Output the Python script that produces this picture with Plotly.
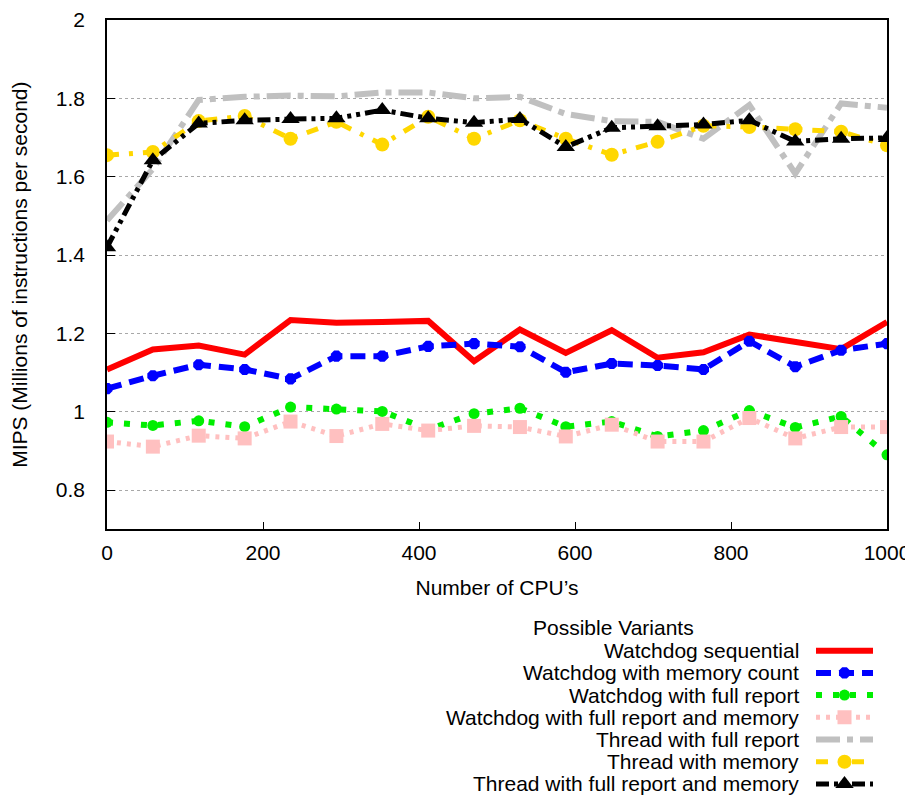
import plotly.graph_objects as go

# ---------------- data ----------------
cpus = [0, 58.8, 117.6, 176.5, 235.3, 294.1, 352.9, 411.8, 470.6, 529.4,
        588.2, 647.1, 705.9, 764.7, 823.5, 882.4, 941.2, 1000]

wd_sequential = [1.108, 1.159, 1.169, 1.146, 1.234, 1.227, 1.229, 1.232, 1.129, 1.210,
                 1.150, 1.208, 1.138, 1.152, 1.197, 1.180, 1.160, 1.229]
wd_mem_count = [1.059, 1.092, 1.120, 1.108, 1.084, 1.142, 1.142, 1.167, 1.174, 1.166,
                1.101, 1.123, 1.118, 1.108, 1.180, 1.115, 1.157, 1.174]
wd_full_report = [0.973, 0.965, 0.977, 0.962, 1.012, 1.007, 1.001, 0.955, 0.995, 1.009,
                  0.962, 0.975, 0.937, 0.952, 1.003, 0.960, 0.988, 0.890]
wd_full_report_mem = [0.924, 0.911, 0.939, 0.932, 0.975, 0.938, 0.969, 0.952, 0.964, 0.961,
                      0.937, 0.967, 0.924, 0.924, 0.984, 0.932, 0.961, 0.961]
th_full_report = [1.488, 1.620, 1.796, 1.804, 1.807, 1.805, 1.815, 1.815, 1.800, 1.804,
                  1.760, 1.742, 1.740, 1.697, 1.783, 1.608, 1.787, 1.776]
th_memory = [1.655, 1.663, 1.742, 1.755, 1.697, 1.740, 1.682, 1.753, 1.697, 1.744,
             1.697, 1.656, 1.689, 1.730, 1.727, 1.721, 1.715, 1.680]
th_full_report_mem = [1.420, 1.642, 1.736, 1.744, 1.747, 1.749, 1.770, 1.749, 1.738, 1.747,
                      1.676, 1.725, 1.729, 1.733, 1.744, 1.690, 1.697, 1.699]

names = ["Watchdog sequential", "Watchdog with memory count", "Watchdog with full report",
         "Watchdog with full report and memory", "Thread with full report",
         "Thread with memory", "Thread with full report and memory"]
series = [wd_sequential, wd_mem_count, wd_full_report, wd_full_report_mem,
          th_full_report, th_memory, th_full_report_mem]

x_ticks = [0, 200, 400, 600, 800, 1000]
y_ticks = [0.8, 1.0, 1.2, 1.4, 1.6, 1.8, 2.0]
y_tick_text = ["0.8", "1", "1.2", "1.4", "1.6", "1.8", "2"]
legend_title = "Possible Variants"

# ---------------- styles ----------------
styles = [
    dict(color="#ff0000", width=6, dash="solid", symbol=None, size=0),
    dict(color="#0000ff", width=6, dash="15px,8px", symbol="octagon", size=12),
    dict(color="#00ee00", width=6, dash="6px,11px", symbol="circle", size=11),
    dict(color="#ffc0c0", width=5, dash="4px,6px", symbol="square", size=14),
    dict(color="#c0c0c0", width=6, dash="24px,7px,6px,7px", symbol=None, size=0),
    dict(color="#ffd700", width=5, dash="12px,10px,4px,10px", symbol="circle", size=14),
    dict(color="#000000", width=5, dash="13px,5px,4px,5px,4px,5px", symbol="triangle-up", size=16),
]

FONT = "Liberation Sans, Arial, Helvetica, sans-serif"
FS = 21
OFF = 8  # page body margin
W, H = 913 - OFF, 796 - OFF
left_px, right_px, top_px, bottom_px = 107 - OFF, 887 - OFF, 20 - OFF, 529.3 - OFF
paper_h = H - top_px
y_dom_low = (H - bottom_px) / paper_h

fig = go.Figure()

for nm, ys, st in zip(names, series, styles):
    mode = "lines+markers" if st["symbol"] else "lines"
    fig.add_trace(go.Scatter(
        x=cpus, y=ys, name=nm, mode=mode,
        line=dict(color=st["color"], width=st["width"], dash=st["dash"]),
        marker=dict(symbol=st["symbol"] or "circle", size=st["size"], color=st["color"],
                    line=dict(width=0)),
        showlegend=False, xaxis="x", yaxis="y"))

# ---------------- custom legend (text left, sample right) ----------------
row0 = 650.7 - OFF
row_step = 22.2
sample_x0, sample_x1 = 816 - OFF, 873 - OFF
annotations = [dict(x=613 - OFF, y=627.5 - OFF, xref="x2", yref="y2", text=legend_title,
                    showarrow=False, xanchor="center", yanchor="middle",
                    font=dict(family=FONT, size=FS, color="black"))]
for i, (nm, st) in enumerate(zip(names, styles)):
    yy = row0 + i * row_step
    fig.add_trace(go.Scatter(
        x=[sample_x0, sample_x1], y=[yy, yy], mode="lines",
        line=dict(color=st["color"], width=st["width"], dash=st["dash"]),
        showlegend=False, hoverinfo="skip", xaxis="x2", yaxis="y2"))
    if st["symbol"]:
        fig.add_trace(go.Scatter(
            x=[(sample_x0 + sample_x1) / 2], y=[yy], mode="markers",
            marker=dict(symbol=st["symbol"], size=st["size"], color=st["color"],
                        line=dict(width=0)),
            showlegend=False, hoverinfo="skip", xaxis="x2", yaxis="y2"))
    annotations.append(dict(x=801 - OFF, y=yy, xref="x2", yref="y2", text=nm,
                            showarrow=False, xanchor="right", yanchor="middle",
                            font=dict(family=FONT, size=FS, color="black")))

fig.update_layout(
    width=W, height=H,
    margin=dict(l=left_px, r=W - right_px, t=top_px, b=0, pad=0),
    paper_bgcolor="white", plot_bgcolor="white",
    font=dict(family=FONT, size=FS, color="black"),
    showlegend=False,
    xaxis=dict(
        domain=[0, 1], range=[0, 1000], tickvals=x_ticks,
        ticks="inside", ticklen=8, tickcolor="black", tickwidth=1,
        showline=True, linecolor="black", linewidth=1.5, mirror=True,
        showgrid=False, zeroline=False, anchor="y",
        tickfont=dict(family=FONT, size=FS), ticklabelstandoff=4,
        title=dict(text="Number of CPU’s", font=dict(family=FONT, size=FS), standoff=17),
        automargin=False,
    ),
    yaxis=dict(
        domain=[y_dom_low, 1], range=[0.7, 2.0], tickvals=y_ticks, ticktext=y_tick_text,
        ticks="inside", ticklen=8, tickcolor="black", tickwidth=1,
        showline=True, linecolor="black", linewidth=1.5, mirror=True,
        showgrid=True, gridcolor="#a8a8a8", griddash="dot", gridwidth=1,
        zeroline=False, anchor="x",
        tickfont=dict(family=FONT, size=FS), ticklabelstandoff=16,
        title=dict(text="MIPS (Millions of instructions per second)",
                   font=dict(family=FONT, size=FS), standoff=22),
        automargin=False,
    ),
    xaxis2=dict(domain=[0, 1], range=[left_px, right_px], visible=False,
                anchor="y2", fixedrange=True),
    yaxis2=dict(domain=[0, 0.3], range=[H, H - 0.3 * paper_h], visible=False,
                anchor="x2", fixedrange=True),
    annotations=annotations,
)

fig.write_html("out.html")
